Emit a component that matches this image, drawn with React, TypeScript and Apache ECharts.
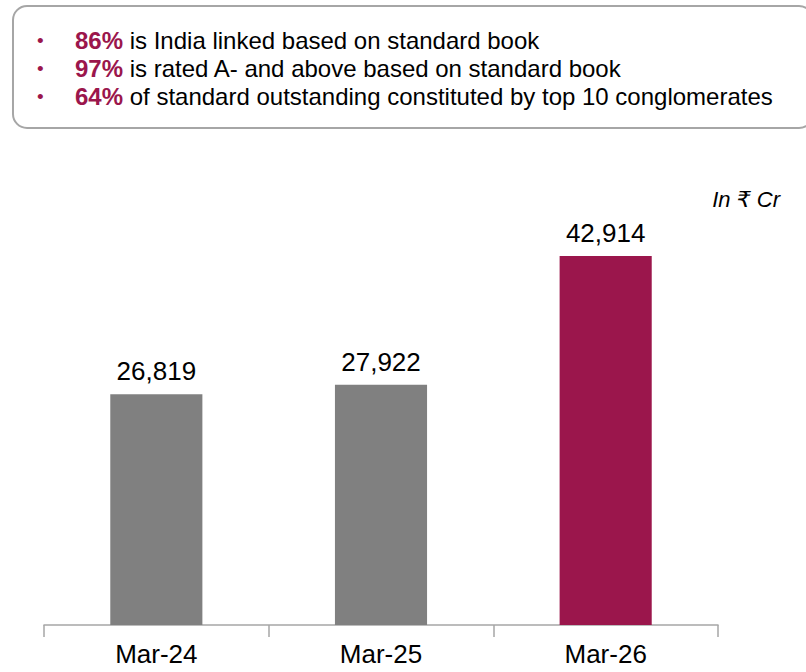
import React, { useEffect, useRef } from "react";
import * as echarts from "echarts";

const categories = ["Mar-24", "Mar-25", "Mar-26"];
const values = [26819, 27922, 42914];
const barColors = ["#808080", "#808080", "#9B164C"];
const bulletBold = ["86%", "97%", "64%"];
const bulletText = [
  "is India linked based on standard book",
  "is rated A- and above based on standard book",
  "of standard outstanding constituted by top 10 conglomerates",
];
const unitLabel = "In ₹ Cr";

const FONT = "'Liberation Sans', Arial, 'DejaVu Sans', sans-serif";
const MAROON = "#9B164C";

export default function App() {
  const ref = useRef<HTMLDivElement>(null);
  useEffect(() => {
    if (!ref.current) return;
    const chart = echarts.init(ref.current, null, { renderer: "svg" });
    const bulletGraphics = bulletBold.map((b, i) => ({
      type: "group",
      children: [
        {
          type: "text",
          x: 37,
          y: 40 + i * 28,
          style: { text: "•", font: `19px ${FONT}`, fill: MAROON, verticalAlign: "middle" },
        },
        {
          type: "text",
          x: 75,
          y: 40 + i * 28,
          style: {
            text: `{b|${b}}{t| ${bulletText[i]}}`,
            verticalAlign: "middle",
            rich: {
              b: { fontFamily: FONT, fontSize: 24, fontWeight: "bold", fill: MAROON, color: MAROON },
              t: { fontFamily: FONT, fontSize: 24, fill: "#000", color: "#000" },
            },
          },
        },
      ],
    }));
    chart.setOption({
      animation: false,
      grid: { left: 44, right: 88, top: 195, bottom: 47 },
      xAxis: {
        type: "category",
        data: categories,
        axisLine: { lineStyle: { color: "#A6A6A6", width: 1.5 } },
        axisTick: { show: true, length: 12, lineStyle: { color: "#A6A6A6", width: 1.5 } },
        axisLabel: { color: "#000", fontSize: 26, fontFamily: FONT, margin: 16 },
      },
      yAxis: {
        type: "value",
        min: 0,
        max: 50000,
        show: false,
        splitLine: { show: false },
      },
      series: [
        {
          type: "bar",
          data: values.map((v, i) => ({ value: v, itemStyle: { color: barColors[i] } })),
          barWidth: "41%",
          label: {
            show: true,
            position: "top",
            distance: 10,
            color: "#000",
            fontSize: 26,
            fontFamily: FONT,
            formatter: (p: any) => p.value.toLocaleString("en-US"),
          },
        },
      ],
      graphic: [
        {
          type: "rect",
          shape: { x: 13, y: 6, width: 800, height: 122, r: 14 },
          style: { fill: "#fff", stroke: "#A6A6A6", lineWidth: 2 },
        },
        ...bulletGraphics,
        {
          type: "text",
          right: 26,
          top: 188,
          style: {
            text: unitLabel,
            font: `italic 22px ${FONT}`,
            fill: "#000",
          },
        },
      ],
    });
    return () => chart.dispose();
  }, []);
  return (
    <div
      ref={ref}
      style={{ position: "absolute", left: 0, top: 0, width: 806, height: 672, background: "#fff" }}
    />
  );
}
